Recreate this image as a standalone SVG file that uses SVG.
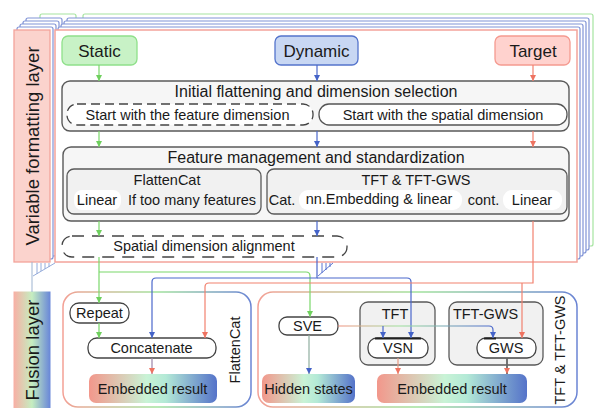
<svg xmlns="http://www.w3.org/2000/svg" width="601" height="408" viewBox="0 0 601 408">
<defs>
<style>
text{font-family:"Liberation Sans",Arial,sans-serif;fill:#1a1a1a}
.t16{font-size:16px}
.t14{font-size:14.5px}
.t17{font-size:17px}
.big{font-size:18.5px}
.mid{text-anchor:middle}
.layerB{fill:#fff;stroke:#8093d6;stroke-width:1.2}
.layerG{fill:#fff;stroke:#a6e4a0;stroke-width:1.2}
.gbox{fill:#f6f6f6;stroke:#5a5a5a;stroke-width:1.4}
.ibox{fill:#f1f1f1;stroke:#5a5a5a;stroke-width:1.3}
.pill{fill:#fff;stroke:#444;stroke-width:1.3}
.wpill{fill:#fff}
.lg{fill:none;stroke:#7bd86b;stroke-width:1.2}
.lb{fill:none;stroke:#4b68cc;stroke-width:1.2}
.lr{fill:none;stroke:#f2816f;stroke-width:1.2}
</style>
<marker id="ag" viewBox="0 0 10 10" refX="10" refY="5" markerWidth="6" markerHeight="6" markerUnits="userSpaceOnUse" orient="auto"><path d="M0,0L10,5L0,10z" fill="#6fd05e"/></marker>
<marker id="ab" viewBox="0 0 10 10" refX="10" refY="5" markerWidth="6" markerHeight="6" markerUnits="userSpaceOnUse" orient="auto"><path d="M0,0L10,5L0,10z" fill="#4463c8"/></marker>
<marker id="ar" viewBox="0 0 10 10" refX="10" refY="5" markerWidth="6" markerHeight="6" markerUnits="userSpaceOnUse" orient="auto"><path d="M0,0L10,5L0,10z" fill="#ee7361"/></marker>
<linearGradient id="eg" x1="0" y1="0" x2="1" y2="0">
<stop offset="0" stop-color="#f2978b"/><stop offset="0.45" stop-color="#c9f3d6"/><stop offset="0.6" stop-color="#b3e9d6"/><stop offset="1" stop-color="#5573c9"/>
</linearGradient>
<linearGradient id="fg" x1="0" y1="0" x2="1" y2="0">
<stop offset="0" stop-color="#f7b0a5"/><stop offset="0.5" stop-color="#c5eec0"/><stop offset="1" stop-color="#6a88d8"/>
</linearGradient>
<linearGradient id="sg" x1="0" y1="0" x2="1" y2="0">
<stop offset="0" stop-color="#f3a095"/><stop offset="0.5" stop-color="#a2e29c"/><stop offset="1" stop-color="#6a84d4"/>
</linearGradient>
<linearGradient id="sveg" gradientUnits="userSpaceOnUse" x1="338" y1="0" x2="493" y2="0">
<stop offset="0" stop-color="#f0907e"/><stop offset="0.4" stop-color="#9de09a"/><stop offset="1" stop-color="#4b68cc"/>
</linearGradient>
</defs>
<rect width="601" height="408" fill="#fff"/>

<!-- Variable formatting layer stack -->
<g id="label-variable">
<rect x="40" y="14" width="36" height="232" rx="2" class="layerG"/>
<rect x="26" y="18" width="36" height="232" rx="2" class="layerB"/>
<rect x="23" y="21" width="36" height="232" rx="2" class="layerB"/>
<rect x="20" y="24" width="36" height="232" rx="2" class="layerB"/>
<rect x="17" y="27" width="36" height="232" rx="2" class="layerB"/>
<rect x="14" y="30" width="36" height="232" fill="#fbd3cd" stroke="#f3a39a" stroke-width="1.3"/>
<text class="big mid" transform="translate(38.6,146) rotate(-90)">Variable formatting layer</text>
</g>

<!-- main panel stack -->
<g id="panel">
<rect x="83" y="14" width="510" height="232" rx="2" class="layerG"/>
<rect x="67" y="18" width="522" height="232" rx="2" class="layerB"/>
<rect x="64" y="21" width="522" height="232" rx="2" class="layerB"/>
<rect x="61" y="24" width="522" height="232" rx="2" class="layerB"/>
<rect x="58" y="27" width="522" height="232" rx="2" class="layerB"/>
<rect x="55" y="30" width="522" height="232" fill="#fff" stroke="#f3a39a" stroke-width="1.5"/>
</g>

<g id="static">
<rect x="62" y="36" width="75" height="29" rx="6" fill="#c8f2c6" stroke="#8fe08a" stroke-width="1.3"/>
<text class="t17 mid" x="99.5" y="57">Static</text>
</g>
<g id="dynamic">
<rect x="275" y="36" width="83" height="29" rx="6" fill="#c8d7f3" stroke="#5474cc" stroke-width="1.3"/>
<text class="t17 mid" x="316.5" y="57">Dynamic</text>
</g>
<g id="target">
<rect x="495" y="36" width="75" height="29" rx="6" fill="#ffd2ce" stroke="#f59a90" stroke-width="1.3"/>
<text class="t17 mid" x="533" y="57">Target</text>
</g>

<g id="initial">
<rect x="62" y="81" width="507" height="50" rx="8" class="gbox"/>
<text class="t16 mid" x="316" y="97">Initial flattening and dimension selection</text>
<rect x="67" y="104" width="246" height="21" rx="10" fill="#fff" stroke="#444" stroke-width="1.3" stroke-dasharray="9 5"/>
<text class="t14 mid" x="187.5" y="119.5">Start with the feature dimension</text>
<rect x="319" y="104" width="248" height="21" rx="10" fill="#fff" stroke="#555" stroke-width="1.3"/>
<text class="t14 mid" x="443" y="119.5">Start with the spatial dimension</text>
</g>

<g id="feature">
<rect x="63" y="147" width="506" height="74" rx="8" class="gbox"/>
<text class="t16 mid" x="316" y="163">Feature management and standardization</text>
<rect x="67" y="169" width="194" height="45" rx="7" class="ibox"/>
<text class="t14 mid" x="167" y="185">FlattenCat</text>
<rect x="74" y="190" width="47" height="20" rx="8" class="wpill"/>
<text class="t14 mid" x="97" y="204.5">Linear</text>
<text class="t14 mid" x="192" y="204.5">If too many features</text>
<rect x="267" y="169" width="300" height="45" rx="7" class="ibox"/>
<text class="t14 mid" x="416" y="185">TFT &amp; TFT-GWS</text>
<text class="t14 mid" x="282" y="204.5">Cat.</text>
<rect x="299" y="190" width="163" height="20" rx="9" class="wpill"/>
<text class="t14 mid" x="379" y="204">nn.Embedding &amp; linear</text>
<text class="t14 mid" x="483.5" y="204.5">cont.</text>
<rect x="503" y="190" width="59" height="20" rx="9" class="wpill"/>
<text class="t14 mid" x="532" y="204.5">Linear</text>
</g>

<g id="spatial">
<rect x="62" y="236" width="285" height="21" rx="10" fill="#fff" stroke="#444" stroke-width="1.3" stroke-dasharray="12 8"/>
<text class="t14 mid" x="204" y="251">Spatial dimension alignment</text>
</g>

<!-- Fusion layer -->
<g id="label-fusion">
<rect x="14" y="292" width="36" height="120" fill="url(#fg)" stroke="url(#fg)" stroke-width="1"/>
<text class="big mid" transform="translate(38.6,350) rotate(-90)">Fusion layer</text>
</g>

<g id="flattencat-group">
<rect x="63" y="292" width="188" height="115" rx="15" fill="none" stroke="url(#sg)" stroke-width="1.5"/>
<text class="t14 mid" transform="translate(239.5,350) rotate(-90)">FlattenCat</text>
</g>
<g id="tft-group">
<rect x="258" y="292" width="319" height="115" rx="15" fill="none" stroke="url(#sg)" stroke-width="1.5"/>
<text class="t14 mid" transform="translate(565,350) rotate(-90)">TFT &amp; TFT-GWS</text>
</g>

<g id="repeat">
<rect x="70" y="303" width="59" height="20" rx="9" class="pill"/>
<text class="t14 mid" x="99.5" y="317.5">Repeat</text>
</g>
<g id="concatenate">
<rect x="88" y="338" width="128" height="20" rx="9" class="pill"/>
<text class="t14 mid" x="151.5" y="353">Concatenate</text>
</g>
<g id="embedded-left">
<rect x="89" y="374" width="128" height="29" rx="7" fill="url(#eg)"/>
<text class="t14 mid" x="152.5" y="393.5">Embedded result</text>
</g>
<g id="sve">
<rect x="279" y="317" width="59" height="18" rx="8" class="pill"/>
<text class="t14 mid" x="307.5" y="331">SVE</text>
</g>
<g id="hidden">
<rect x="262" y="374" width="93" height="29" rx="7" fill="url(#eg)"/>
<text class="t14 mid" x="308.5" y="393.5">Hidden states</text>
</g>
<g id="tft">
<rect x="360" y="302" width="75" height="63" rx="8" class="ibox"/>
<text class="t14 mid" x="395" y="318.5">TFT</text>
<rect x="368" y="338" width="60" height="20" rx="9" class="pill"/>
<path d="M375,338.5H421" stroke="#222" stroke-width="2"/>
<text class="t14 mid" x="398" y="353">VSN</text>
</g>
<g id="tft-gws">
<rect x="449" y="302" width="94" height="63" rx="8" class="ibox"/>
<text class="t14 mid" x="485.5" y="318.5">TFT-GWS</text>
<rect x="477" y="338" width="59" height="20" rx="9" class="pill"/>
<path d="M484,338.5H496" stroke="#222" stroke-width="2"/>
<text class="t14 mid" x="506" y="353">GWS</text>
</g>
<g id="embedded-right">
<rect x="377" y="374" width="150" height="29" rx="7" fill="url(#eg)"/>
<text class="t14 mid" x="452" y="393.5">Embedded result</text>
</g>

<g id="connectors">
<path class="lg" d="M99,65V81" marker-end="url(#ag)"/>
<path class="lg" d="M99,131V147" marker-end="url(#ag)"/>
<path class="lg" d="M99,221V236" marker-end="url(#ag)"/>
<path class="lg" d="M99,257V303" marker-end="url(#ag)"/>
<path class="lg" d="M99,323V338" marker-end="url(#ag)"/>
<path class="lg" d="M99,272H306Q310,272 310,276V317" marker-end="url(#ag)"/>
<path class="lb" d="M317,65V81" marker-end="url(#ab)"/>
<path class="lb" d="M317,131V147" marker-end="url(#ab)"/>
<path class="lb" d="M317,221V236" marker-end="url(#ab)"/>
<path class="lb" d="M317,257V278H156Q152,278 152,282V338" marker-end="url(#ab)"/>
<path class="lb" d="M317,278H407Q411,278 411,282V338" marker-end="url(#ab)"/>
<path class="lr" d="M533,65V81" marker-end="url(#ar)"/>
<path class="lr" d="M533,131V147" marker-end="url(#ar)"/>
<path class="lr" d="M533,221V283H209Q205,283 205,287V338" marker-end="url(#ar)"/>
<path class="lr" d="M522,283V338" marker-end="url(#ar)"/>
<path d="M338,326H489Q493,326 493,330V338" fill="none" stroke="url(#sveg)" stroke-width="1.2" marker-end="url(#ab)"/>
<path class="lb" d="M383,326V338" marker-end="url(#ab)"/>
<path d="M309,335V374" fill="none" stroke="#8fae9f" stroke-width="1.2" marker-end="url(#ab)"/>
<path d="M152,358V374" fill="none" stroke="#9a84a8" stroke-width="1.2" marker-end="url(#ar)"/>
<path d="M398,358V374" fill="none" stroke="#e79a84" stroke-width="1.2" marker-end="url(#ar)"/>
<path d="M507,358V374" fill="none" stroke="#666" stroke-width="1.8" marker-end="url(#ar)"/>
<path d="M32,262V292" fill="none" stroke="#9db3d0" stroke-width="1"/>
<path d="M55,263L33,276M37,274V263M41,271V263M45,269V263M49,267V263" fill="none" stroke="#8aa3d6" stroke-width="0.9"/>
<path d="M318,276L333,263M322,273V263M326,270V263M330,267V263" fill="none" stroke="#4b68cc" stroke-width="0.9"/>
</g>
</svg>
